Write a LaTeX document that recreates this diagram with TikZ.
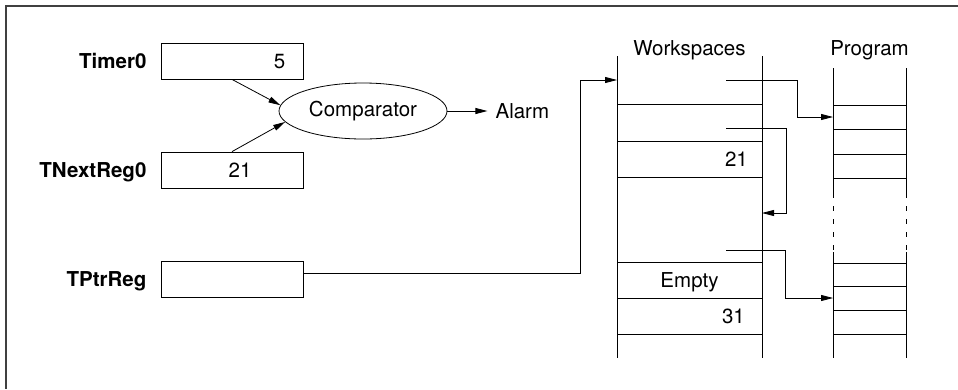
\documentclass[tikz,border=0pt]{standalone}
\usepackage{fontspec}
\setmainfont{TeX Gyre Heros}
\usepackage{tikz}
\usetikzlibrary{shapes.geometric,arrows.meta,positioning}
\newcommand{\diagfont}{\fontsize{20.5pt}{24pt}\selectfont}
\tikzset{
  reg/.style={rectangle,draw,line width=0.8pt,minimum width=142pt,minimum height=36pt,inner sep=0pt},
  reglbl/.style={font=\diagfont\bfseries,inner sep=0pt,text depth=0pt},
  val/.style={font=\diagfont,inner sep=0pt,text depth=0pt},
  cmpnode/.style={ellipse,draw,line width=0.8pt,minimum width=168pt,minimum height=56pt,inner sep=0pt,font=\diagfont},
  hdr/.style={font=\diagfont,inner sep=0pt,anchor=base},
  ptr/.style={-{Triangle[length=12pt,width=6pt]},line width=0.8pt},
  col/.style={line width=0.8pt},
}

\begin{document}
\begin{tikzpicture}[x=1pt,y=-1pt]
  \useasboundingbox (0,0) rectangle (958,389);
  \draw[line width=1.2pt,black!75] (958,6) -- (6,6) -- (6,389);

  % timer registers
  \node[reg] (timer) at (232,61) {};
  \node[reg] (tnext) at (232,170) {};
  \node[reg] (tptr) at (232,279) {};
  \node[reglbl,left=14pt of timer] (timerlbl) {Timer0};
  \node[reglbl,left=14pt of tnext] (tnextlbl) {TNextReg0};
  \node[reglbl,left=14pt of tptr] (tptrlbl) {TPtrReg};
  \node[val,anchor=east] (timerval) at ([xshift=-18pt]timer.east) {5};
  \node[val] (tnextval) at ([xshift=8pt]tnext.center) {21};

  \node[cmpnode] (cmp) at (363,111) {Comparator};
  \node[val,right=48pt of cmp] (alarm) {Alarm};
  \draw[ptr] (timer.south) -- (cmp.176);
  \draw[ptr] (tnext.north) -- (cmp.188);
  \draw[ptr,shorten >=8pt] (cmp.east) -- (alarm.west);

  % workspaces
  \node[hdr] (wshdr) at (689.5,55) {Workspaces};
  \draw[col] (617,56) -- (617,358) (762,56) -- (762,358);
  \foreach \y in {104,141,177,262,298,334}
    \draw[col] (617,\y) -- (762,\y);
  \node[val,anchor=east] (ws21) at (748,159) {21};
  \node[val] (wsempty) at (689.5,280) {Empty};
  \node[val,anchor=east] (ws31) at (745,316) {31};

  % program
  \node[hdr] (proghdr) at (869.5,55) {Program};
  \foreach \x in {833,906} {
    \draw[col] (\x,68) -- (\x,193);
    \draw[col,dash pattern=on 5pt off 8pt] (\x,193) -- (\x,252);
    \draw[col] (\x,252) -- (\x,358);
  }
  \foreach \y in {105,129,154,178,263,286,310,334}
    \draw[col] (833,\y) -- (906,\y);

  % pointers
  \coordinate (wsin) at (617,80);
  \coordinate (wsptrA) at (726,80);
  \coordinate (wsptrB) at (726,128);
  \coordinate (wsptrC) at (726,250);
  \coordinate (wsback) at (762,213);
  \coordinate (progA) at (833,117);
  \coordinate (progB) at (833,298);
  \draw[ptr] ([yshift=6pt]tptr.east) -- ++(277,0) |- (wsin);
  \draw[ptr] (wsptrA) -- ++(71,0) |- (progA);
  \draw[ptr] (wsptrB) -- ++(60,0) |- (wsback);
  \draw[ptr] (wsptrC) -- ++(59,0) |- (progB);
\end{tikzpicture}
\end{document}
